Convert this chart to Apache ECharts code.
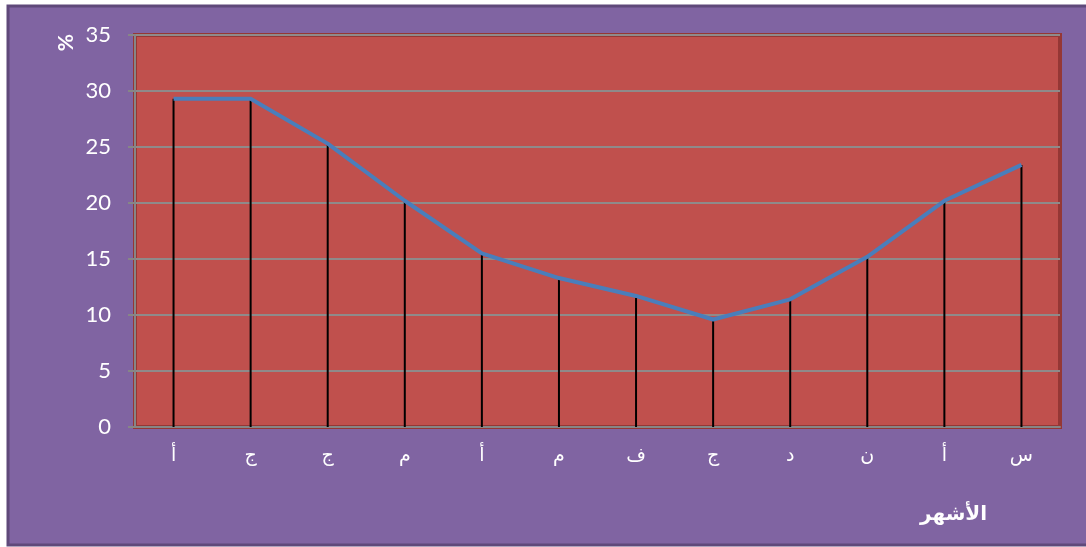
<!DOCTYPE html>
<html>
<head>
<meta charset="utf-8">
<script src="https://cdn.jsdelivr.net/npm/echarts@6/dist/echarts.min.js"></script>
<style>
  html, body { margin: 0; padding: 0; background: #fff; }
  #main { width: 1086px; height: 547px; }
</style>
</head>
<body>
<div id="main"></div>
<script>
// months (Arabic initials) and values in %
var months = ['أ', 'ج', 'ج', 'م', 'أ', 'م', 'ف', 'ج', 'د', 'ن', 'أ', 'س'];
var values = [29.3, 29.3, 25.3, 20.2, 15.5, 13.3, 11.7, 9.6, 11.4, 15.2, 20.2, 23.4];
var yTicks = [0, 5, 10, 15, 20, 25, 30, 35];

var font = "Lato, 'DejaVu Sans', sans-serif";
var chart = echarts.init(document.getElementById('main'));
var option = {
    backgroundColor: '#ffffff',
    animation: false,
    graphic: [
        {
            type: 'rect', z: -10, silent: true,
            shape: {x: 8, y: 6, width: 1080, height: 539},
            style: {fill: '#8064A2', stroke: '#5F497A', lineWidth: 3}
        },
        {
            type: 'text', left: 56, top: 34, rotation: Math.PI / 2,
            style: {text: '%', fill: '#ffffff', font: "bold 21px " + font}
        },
        {
            type: 'text', left: 920, top: 505,
            style: {text: 'الأشهر', fill: '#ffffff', font: "bold 20px 'DejaVu Sans', sans-serif"}
        }
    ],
    grid: {
        left: 135, right: 26, top: 35, bottom: 120,
        show: true,
        backgroundColor: '#C0504D',
        borderColor: '#953735',
        borderWidth: 4
    },
    xAxis: {
        type: 'category',
        data: months,
        boundaryGap: true,
        axisLine: {lineStyle: {color: '#868686', width: 2}},
        axisTick: {show: false},
        axisLabel: {color: '#ffffff', fontSize: 19, margin: 20, fontFamily: "'DejaVu Sans', sans-serif"}
    },
    yAxis: {
        type: 'value',
        min: yTicks[0],
        max: yTicks[yTicks.length - 1],
        interval: 5,
        axisLine: {show: true, lineStyle: {color: '#868686', width: 2}},
        axisTick: {show: true, length: 7, lineStyle: {color: '#868686', width: 2}},
        axisLabel: {color: '#ffffff', fontSize: 22, margin: 24, fontFamily: font},
        splitLine: {lineStyle: {color: '#8f8a8a', width: 2}}
    },
    series: [
        {
            // drop lines
            type: 'bar',
            data: values,
            barWidth: 2,
            itemStyle: {color: '#000000'},
            z: 2
        },
        {
            type: 'line',
            data: values,
            symbol: 'none',
            lineStyle: {color: '#4A7EBB', width: 4},
            z: 3
        }
    ]
};
chart.setOption(option, true);
</script>
</body>
</html>
